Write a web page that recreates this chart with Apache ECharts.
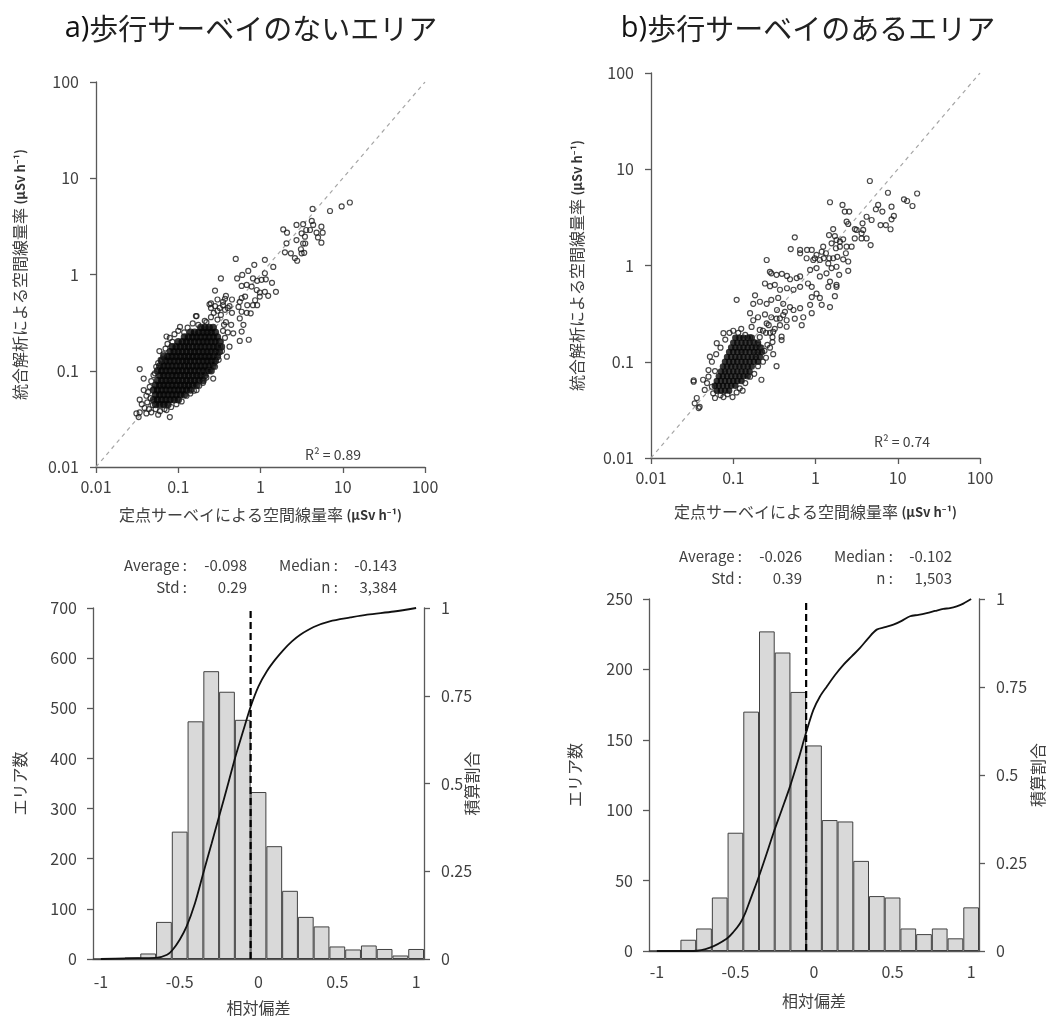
<!DOCTYPE html>
<html>
<head>
<meta charset="utf-8">
<title>空間線量率の比較</title>
<script src="https://cdn.jsdelivr.net/npm/echarts@6/dist/echarts.min.js"></script>
<style>
  html, body { margin: 0; padding: 0; background: #fff; }
  #main { width: 1047px; height: 1019px; }
</style>
</head>
<body>
<div id="main"></div>
<script>
// ---- data ----
const panelTitles = ['a)', '歩行サーベイのないエリア', 'b)', '歩行サーベイのあるエリア']
const r2Labels = ['R² = 0.89', 'R² = 0.74']
const diagonalLine = [[0.01, 0.01], [100, 100]]

// dense core of the scatter (rows: [y, [x...]]), µSv/h
const coreRowsA = [
  [0.0447, [0.0531, 0.0596, 0.0668, 0.075]],
  [0.0501, [0.0501, 0.0562, 0.0631, 0.0708, 0.0794, 0.0891, 0.1]],
  [0.0562, [0.0531, 0.0596, 0.0668, 0.075, 0.0841, 0.0944, 0.106, 0.119]],
  [0.0631, [0.0501, 0.0562, 0.0631, 0.0708, 0.0794, 0.0891, 0.1, 0.112, 0.126, 0.141]],
  [0.0708, [0.0531, 0.0596, 0.0668, 0.075, 0.0841, 0.0944, 0.106, 0.119, 0.133, 0.15, 0.168]],
  [0.0794, [0.0562, 0.0631, 0.0708, 0.0794, 0.0891, 0.1, 0.112, 0.126, 0.141, 0.158, 0.178, 0.2]],
  [0.0891, [0.0596, 0.0668, 0.075, 0.0841, 0.0944, 0.106, 0.119, 0.133, 0.15, 0.168, 0.188, 0.211]],
  [0.1, [0.0562, 0.0631, 0.0708, 0.0794, 0.0891, 0.1, 0.112, 0.126, 0.141, 0.158, 0.178, 0.2, 0.224, 0.251]],
  [0.112, [0.0596, 0.0668, 0.075, 0.0841, 0.0944, 0.106, 0.119, 0.133, 0.15, 0.168, 0.188, 0.211, 0.237, 0.266]],
  [0.126, [0.0631, 0.0708, 0.0794, 0.0891, 0.1, 0.112, 0.126, 0.141, 0.158, 0.178, 0.2, 0.224, 0.251, 0.282]],
  [0.141, [0.0668, 0.075, 0.0841, 0.0944, 0.106, 0.119, 0.133, 0.15, 0.168, 0.188, 0.211, 0.237, 0.266, 0.299]],
  [0.158, [0.0794, 0.0891, 0.1, 0.112, 0.126, 0.141, 0.158, 0.178, 0.2, 0.224, 0.251, 0.282, 0.316]],
  [0.178, [0.0841, 0.0944, 0.106, 0.119, 0.133, 0.15, 0.168, 0.188, 0.211, 0.237, 0.266, 0.299, 0.335]],
  [0.2, [0.1, 0.112, 0.126, 0.141, 0.158, 0.178, 0.2, 0.224, 0.251, 0.282, 0.316]],
  [0.224, [0.119, 0.133, 0.15, 0.168, 0.188, 0.211, 0.237, 0.266, 0.299]],
  [0.251, [0.141, 0.158, 0.178, 0.2, 0.224, 0.251, 0.282]],
  [0.282, [0.188, 0.211, 0.237, 0.266]]
]
// single points around the core and the sparse tail
const pointsA = [
  [0.031, 0.036], [0.033, 0.033], [0.034, 0.037], [0.034, 0.05], [0.034, 0.104], [0.036, 0.045], [0.038, 0.063],
  [0.038, 0.083], [0.039, 0.041], [0.041, 0.036], [0.041, 0.055], [0.042, 0.047], [0.043, 0.06], [0.044, 0.04],
  [0.045, 0.068], [0.046, 0.052], [0.047, 0.037], [0.047, 0.078], [0.049, 0.044], [0.05, 0.09], [0.052, 0.094],
  [0.053, 0.04], [0.054, 0.11], [0.057, 0.035], [0.057, 0.12], [0.059, 0.16], [0.06, 0.038], [0.061, 0.13],
  [0.063, 0.129], [0.066, 0.148], [0.068, 0.04], [0.07, 0.17], [0.072, 0.227], [0.072, 0.039], [0.074, 0.19],
  [0.079, 0.033], [0.079, 0.22], [0.082, 0.042], [0.085, 0.2], [0.09, 0.24], [0.095, 0.045], [0.1, 0.26],
  [0.105, 0.285], [0.11, 0.048], [0.118, 0.25], [0.126, 0.055], [0.13, 0.28], [0.14, 0.058], [0.15, 0.31],
  [0.155, 0.062], [0.167, 0.37], [0.167, 0.063], [0.175, 0.3], [0.18, 0.07], [0.2, 0.094], [0.2, 0.075],
  [0.21, 0.33], [0.22, 0.32], [0.22, 0.085], [0.24, 0.1], [0.25, 0.36], [0.266, 0.083], [0.27, 0.12],
  [0.28, 0.11], [0.29, 0.15], [0.3, 0.34], [0.31, 0.13], [0.32, 0.18], [0.33, 0.2], [0.34, 0.16], [0.35, 0.26],
  [0.36, 0.3], [0.37, 0.22], [0.39, 0.14], [0.4, 0.25], [0.42, 0.178], [0.44, 0.3], [0.466, 0.245], [0.38, 0.32],
  [0.33, 0.38], [0.27, 0.4], [0.25, 0.5], [0.3, 0.55], [0.35, 0.52], [0.42, 0.47], [0.45, 0.55], [0.38, 0.6],
  [0.3, 0.42], [0.45, 0.4],
  [12.2, 5.6], [9.7, 5.1], [7.0, 4.57], [4.3, 4.8], [2.74, 3.27], [3.3, 3.33], [4.2, 3.6], [4.37, 3.27], [5.5, 3.14],
  [5.7, 2.72], [4.8, 2.72], [5.0, 2.43], [5.5, 2.14], [3.6, 2.9], [4.0, 2.9], [3.16, 2.68], [3.47, 2.47],
  [2.74, 2.28], [3.3, 2.1], [3.5, 2.1], [3.1, 1.83], [3.16, 1.66], [1.89, 2.94], [2.1, 2.72], [2.07, 2.11],
  [1.98, 1.7], [2.34, 1.66], [2.62, 1.48], [2.79, 1.39], [3.4, 1.68],
  [0.5, 1.45], [0.84, 1.26], [1.13, 1.42], [1.43, 1.2], [0.33, 0.91], [0.52, 0.91], [0.6, 0.99], [0.71, 1.09],
  [0.81, 0.91], [0.91, 0.86], [1.03, 0.88], [1.16, 0.89], [1.13, 1.03], [1.38, 0.82], [0.59, 0.76], [0.68, 0.78],
  [0.78, 0.75], [0.9, 0.69], [0.98, 0.65], [1.13, 0.66], [1.24, 0.6], [1.54, 0.66], [0.28, 0.68], [0.37, 0.56],
  [0.59, 0.57], [0.65, 0.59], [0.56, 0.52], [0.69, 0.48], [0.81, 0.48], [0.91, 0.48], [0.86, 0.54], [0.98, 0.59],
  [0.54, 0.46], [0.59, 0.41], [0.68, 0.4], [0.76, 0.395], [0.56, 0.35], [0.62, 0.3], [0.59, 0.255], [0.56, 0.204],
  [0.72, 0.21], [0.24, 0.49], [0.25, 0.45], [0.28, 0.47], [0.32, 0.45], [0.37, 0.43], [0.4, 0.45], [0.35, 0.48],
  [0.164, 0.37]
]

const coreRowsB = [
  [0.0501, [0.0631, 0.0708, 0.0794, 0.0891]],
  [0.0562, [0.0596, 0.0668, 0.075, 0.0841, 0.0944, 0.106]],
  [0.0631, [0.0631, 0.0708, 0.0794, 0.0891, 0.1, 0.112, 0.126]],
  [0.0708, [0.0668, 0.075, 0.0841, 0.0944, 0.106, 0.119, 0.133, 0.15]],
  [0.0794, [0.0708, 0.0794, 0.0891, 0.1, 0.112, 0.126, 0.141, 0.158]],
  [0.0891, [0.075, 0.0841, 0.0944, 0.106, 0.119, 0.133, 0.15, 0.168]],
  [0.1, [0.0794, 0.0891, 0.1, 0.112, 0.126, 0.141, 0.158, 0.178, 0.2]],
  [0.112, [0.0841, 0.0944, 0.106, 0.119, 0.133, 0.15, 0.168, 0.188, 0.211]],
  [0.126, [0.0891, 0.1, 0.112, 0.126, 0.141, 0.158, 0.178, 0.2, 0.224]],
  [0.141, [0.0944, 0.106, 0.119, 0.133, 0.15, 0.168, 0.188, 0.211]],
  [0.158, [0.1, 0.112, 0.126, 0.141, 0.158, 0.178, 0.2]],
  [0.178, [0.106, 0.119, 0.133, 0.15, 0.168]]
]
const pointsB = [
  [0.033, 0.064], [0.036, 0.042], [0.034, 0.037], [0.039, 0.034], [0.043, 0.065], [0.05, 0.082], [0.045, 0.051],
  [0.057, 0.047], [0.076, 0.043], [0.098, 0.043], [0.12, 0.053], [0.22, 0.065], [0.336, 0.09], [0.306, 0.12],
  [0.387, 0.168], [0.446, 0.231], [0.369, 0.282], [0.076, 0.198], [0.063, 0.156], [0.052, 0.113], [0.033, 0.062],
  [0.038, 0.033], [0.048, 0.06], [0.05, 0.07], [0.055, 0.1], [0.06, 0.08], [0.062, 0.12], [0.07, 0.14], [0.08, 0.17],
  [0.09, 0.2], [0.1, 0.21], [0.115, 0.2], [0.125, 0.22], [0.14, 0.19], [0.16, 0.18], [0.18, 0.16], [0.2, 0.15],
  [0.22, 0.14], [0.24, 0.13], [0.26, 0.15], [0.25, 0.11], [0.23, 0.1], [0.2, 0.09], [0.18, 0.075], [0.16, 0.07],
  [0.14, 0.06], [0.13, 0.05], [0.11, 0.048], [0.085, 0.046], [0.07, 0.045], [0.06, 0.042], [0.055, 0.055],
  [0.19, 0.12], [0.21, 0.18], [0.28, 0.2], [0.3, 0.18], [0.27, 0.24], [0.25, 0.2], [0.32, 0.22], [0.23, 0.21],
  [0.28, 0.14], [0.3, 0.16],
  [4.58, 7.55], [17.2, 5.6], [11.9, 4.87], [13.0, 4.68], [15.1, 4.15], [7.6, 5.7], [1.5, 4.54], [2.13, 4.26],
  [2.27, 3.63], [2.57, 3.63], [5.78, 4.26], [5.42, 3.84], [6.5, 3.63], [8.4, 4.08], [8.97, 3.27], [8.4, 3.02],
  [4.18, 3.21], [4.81, 2.97], [3.73, 2.74], [2.39, 2.85], [2.5, 2.7], [6.18, 2.63], [7.17, 2.63], [8.17, 2.38],
  [3.01, 2.39], [3.16, 2.34], [3.8, 2.34], [3.63, 2.16], [3.0, 1.91], [3.63, 1.91], [4.18, 1.91], [4.68, 1.63],
  [1.64, 2.39], [1.72, 2.02], [1.46, 2.07], [1.8, 1.84], [1.98, 1.77], [2.17, 1.87], [1.57, 1.7], [1.98, 1.57],
  [2.39, 1.57], [1.77, 1.51], [2.75, 1.57], [2.5, 1.1], [2.17, 1.16], [2.34, 1.34], [1.24, 1.57], [1.19, 1.39],
  [1.34, 1.34], [1.03, 1.29], [0.98, 1.19], [1.13, 1.14], [1.26, 1.19], [1.47, 1.19], [1.64, 1.19], [1.84, 1.23],
  [1.43, 1.05], [1.57, 0.94], [1.8, 0.97], [1.36, 0.83], [1.94, 0.8], [2.5, 0.88], [1.5, 0.68], [1.8, 0.6],
  [1.72, 0.48], [0.56, 1.96], [0.5, 1.48], [0.65, 1.45], [0.65, 1.34], [0.79, 1.45], [0.9, 1.45], [0.78, 1.19],
  [0.94, 1.14], [1.03, 0.94], [0.86, 0.9], [1.13, 0.77], [0.255, 1.14], [0.279, 0.86], [0.29, 0.83], [0.336, 0.8],
  [0.39, 0.82], [0.45, 0.78], [0.49, 0.72], [0.59, 0.74], [0.65, 0.77], [0.243, 0.65], [0.28, 0.61], [0.32, 0.63],
  [0.37, 0.56], [0.45, 0.58], [0.54, 0.56], [0.65, 0.6], [0.81, 0.65], [0.9, 0.6], [1.03, 0.51], [0.9, 0.47],
  [1.13, 0.46], [1.43, 0.6], [1.8, 0.63], [1.5, 0.37], [1.19, 0.39], [0.11, 0.44], [0.184, 0.49], [0.175, 0.4],
  [0.211, 0.42], [0.255, 0.4], [0.29, 0.44], [0.352, 0.46], [0.405, 0.4], [0.49, 0.37], [0.34, 0.345],
  [0.425, 0.33], [0.54, 0.345], [0.65, 0.36], [0.86, 0.39], [0.71, 0.29], [0.68, 0.24], [0.9, 0.32], [0.16, 0.32],
  [0.175, 0.27], [0.2, 0.29], [0.243, 0.31], [0.29, 0.29], [0.336, 0.28], [0.405, 0.306], [0.446, 0.27],
  [0.56, 0.28], [0.255, 0.25], [0.37, 0.24], [0.167, 0.23], [0.21, 0.214], [0.306, 0.205], [0.387, 0.182]
]

// histograms of relative deviation (bin centres -1 ... 1, step 0.1)
const histBins = ['-1', '-0.9', '-0.8', '-0.7', '-0.6', '-0.5', '-0.4', '-0.3', '-0.2', '-0.1', '0',
  '0.1', '0.2', '0.3', '0.4', '0.5', '0.6', '0.7', '0.8', '0.9', '1']
const histCountsA = [0, 0, 3, 11, 74, 254, 474, 574, 533, 477, 333, 225, 136, 84, 65, 25, 19, 27, 20, 7, 20]
const histCountsB = [0, 0, 8, 16, 38, 84, 170, 227, 212, 184, 146, 93, 92, 64, 39, 38, 16, 12, 16, 9, 31]
const cumulativeA = [[-1.0, 0], [-0.84, 0.002], [-0.65, 0.003], [-0.58, 0.012], [-0.547, 0.025],
  [-0.5, 0.055], [-0.456, 0.093], [-0.403, 0.159], [-0.35, 0.245], [-0.297, 0.33], [-0.244, 0.416],
  [-0.191, 0.502], [-0.146, 0.577], [-0.095, 0.653], [-0.049, 0.72], [0.0, 0.777], [0.053, 0.82],
  [0.106, 0.853], [0.159, 0.881], [0.212, 0.905], [0.265, 0.924], [0.35, 0.946], [0.452, 0.962],
  [0.583, 0.973], [0.689, 0.981], [0.859, 0.99], [1.0, 1.0]]
const cumulativeB = [[-1.0, 0], [-0.768, 0], [-0.662, 0.0095], [-0.556, 0.035], [-0.513, 0.054],
  [-0.471, 0.078], [-0.439, 0.106], [-0.407, 0.144], [-0.375, 0.182], [-0.344, 0.22], [-0.301, 0.277],
  [-0.259, 0.334], [-0.206, 0.4], [-0.153, 0.467], [-0.1, 0.543], [-0.051, 0.619], [-0.004, 0.685],
  [0.038, 0.723], [0.081, 0.751], [0.134, 0.784], [0.187, 0.813], [0.24, 0.837], [0.293, 0.861],
  [0.346, 0.889], [0.399, 0.913], [0.452, 0.92], [0.505, 0.927], [0.558, 0.938], [0.611, 0.951],
  [0.664, 0.955], [0.717, 0.96], [0.77, 0.966], [0.823, 0.972], [0.865, 0.974], [0.908, 0.979],
  [0.95, 0.987], [1.0, 1.0]]
const dashedLineA = [[-0.05, 0], [-0.05, 1]]
const dashedLineB = [[-0.05, 0], [-0.05, 1]]
const statLabels = ['Average :', 'Median :', 'Std :', 'n :']
const statsA = ['-0.098', '-0.143', '0.29', '3,384']
const statsB = ['-0.026', '-0.102', '0.39', '1,503']

// ---- styling ----
const FONT = "'Noto Sans CJK JP', 'Noto Sans', sans-serif"
const AXIS_COLOR = '#595959'
const LABEL_COLOR = '#404040'

function flattenRows(rows) {
  const out = []
  rows.forEach(([y, xs]) => xs.forEach(x => out.push([x, y])))
  return out
}

function fmtLog(v) {
  return String(parseFloat(Number(v).toPrecision(3)))
}

const unitRich = {
  t: { fontSize: 16, color: LABEL_COLOR, fontFamily: FONT },
  u: { fontSize: 13, fontWeight: 'bold', color: '#333', fontFamily: FONT }
}

const axisLineStyle = { onZero: false, lineStyle: { color: AXIS_COLOR, width: 1.3 } }

function logAxis(gridIndex, name, nameGap, isY) {
  return {
    type: 'log',
    logBase: 10,
    gridIndex: gridIndex,
    min: 0.01,
    max: 100,
    name: name,
    nameLocation: 'middle',
    nameGap: nameGap,
    nameMoveOverlap: false,
    nameRotate: isY ? 90 : 0,
    nameTextStyle: { rich: unitRich },
    axisLine: axisLineStyle,
    axisTick: { length: 6, lineStyle: { color: AXIS_COLOR, width: 1.3 } },
    minorTick: { show: false },
    axisLabel: { margin: isY ? 17 : 12, fontSize: 16, color: LABEL_COLOR, fontFamily: FONT, formatter: fmtLog },
    splitLine: { show: false }
  }
}

function catAxis(gridIndex, nameGap, margin) {
  return {
    type: 'category',
    gridIndex: gridIndex,
    data: histBins,
    boundaryGap: true,
    name: '相対偏差',
    nameLocation: 'middle',
    nameGap: nameGap,
    nameMoveOverlap: false,
    nameTextStyle: { fontSize: 16, color: LABEL_COLOR, fontFamily: FONT },
    axisLine: axisLineStyle,
    axisTick: { interval: 4, length: 6, lineStyle: { color: AXIS_COLOR, width: 1.3 } },
    axisLabel: { interval: 4, margin: margin, fontSize: 16, color: LABEL_COLOR, fontFamily: FONT },
    splitLine: { show: false }
  }
}

function hiddenValueAxis(gridIndex) {
  return {
    type: 'value', gridIndex: gridIndex, min: -1.05, max: 1.05, show: false,
    axisLine: { show: false, onZero: false }, splitLine: { show: false }
  }
}

function countAxis(gridIndex, max, interval, nameGap) {
  return {
    type: 'value',
    gridIndex: gridIndex,
    min: 0,
    max: max,
    interval: interval,
    name: 'エリア数',
    nameLocation: 'middle',
    nameGap: nameGap,
    nameMoveOverlap: false,
    nameRotate: 90,
    nameTextStyle: { fontSize: 16, color: LABEL_COLOR, fontFamily: FONT },
    axisLine: Object.assign({ show: true }, axisLineStyle),
    axisTick: { show: true, length: 6, lineStyle: { color: AXIS_COLOR, width: 1.3 } },
    axisLabel: { margin: 16, fontSize: 16, color: LABEL_COLOR, fontFamily: FONT },
    splitLine: { show: false }
  }
}

function ratioAxis(gridIndex, nameGap) {
  return {
    type: 'value',
    gridIndex: gridIndex,
    position: 'right',
    min: 0,
    max: 1,
    interval: 0.25,
    name: '積算割合',
    nameLocation: 'middle',
    nameGap: nameGap,
    nameMoveOverlap: false,
    nameRotate: 90,
    nameTextStyle: { fontSize: 16, color: LABEL_COLOR, fontFamily: FONT },
    axisLine: Object.assign({ show: true }, axisLineStyle),
    axisTick: { show: true, length: 6, lineStyle: { color: AXIS_COLOR, width: 1.3 } },
    axisLabel: { margin: 17, fontSize: 16, color: LABEL_COLOR, fontFamily: FONT },
    splitLine: { show: false }
  }
}

function scatterSeries(axisIndex, core, points, coreSize) {
  return [
    {
      type: 'line', xAxisIndex: axisIndex, yAxisIndex: axisIndex, data: diagonalLine, symbol: 'none', z: 1,
      lineStyle: { color: '#a6a6a6', width: 1.2, type: [4, 4] }, silent: true
    },
    {
      type: 'scatter', xAxisIndex: axisIndex, yAxisIndex: axisIndex, data: core, symbol: 'circle',
      symbolSize: coreSize, itemStyle: { color: '#050505' }, z: 2, silent: true
    },
    {
      type: 'scatter', xAxisIndex: axisIndex, yAxisIndex: axisIndex, data: points, symbol: 'circle',
      symbolSize: 5, itemStyle: { color: 'rgba(255,255,255,0)', borderColor: '#1a1a1a', borderWidth: 1.2 },
      z: 3, silent: true
    }
  ]
}

function histSeries(catIndex, valIndex, leftIndex, rightIndex, counts, cumulative, dashed) {
  return [
    {
      type: 'bar', xAxisIndex: catIndex, yAxisIndex: leftIndex, data: counts, barCategoryGap: '0%',
      itemStyle: { color: '#d9d9d9', borderColor: '#404040', borderWidth: 1 }, silent: true
    },
    {
      type: 'line', xAxisIndex: valIndex, yAxisIndex: rightIndex, data: cumulative, symbol: 'none',
      smooth: 0.3, lineStyle: { color: '#111', width: 1.8 }, z: 4, silent: true
    },
    {
      type: 'line', xAxisIndex: valIndex, yAxisIndex: rightIndex, data: dashed, symbol: 'none',
      lineStyle: { color: '#000', width: 2.2, type: [7, 4] }, z: 5, silent: true
    }
  ]
}

function statText(x, y, text) {
  return {
    type: 'text', x: x, y: y,
    style: { text: text, fill: LABEL_COLOR, font: '15px ' + FONT, align: 'right', verticalAlign: 'middle' }
  }
}

function statsBlock(labelX, valueX, label2X, value2X, y1, y2, stats) {
  return [
    statText(labelX, y1, statLabels[0]), statText(valueX, y1, stats[0]),
    statText(label2X, y1, statLabels[1]), statText(value2X, y1, stats[1]),
    statText(labelX, y2, statLabels[2]), statText(valueX, y2, stats[2]),
    statText(label2X, y2, statLabels[3]), statText(value2X, y2, stats[3])
  ]
}

function titleText(x, prefix, body) {
  return {
    type: 'text', x: x, y: 29,
    style: {
      text: '{p|' + prefix + '}{b|' + body + '}',
      align: 'center', verticalAlign: 'middle',
      rich: {
        p: { fontSize: 29, fontFamily: "'Open Sans', 'Noto Sans', sans-serif", fill: '#111' },
        b: { fontSize: 29, fontFamily: FONT, fill: '#222' }
      }
    }
  }
}

const xNameScatter = '{t|定点サーベイによる空間線量率} {u|(μSv h⁻¹)}'
const yNameScatter = '{t|統合解析による空間線量率} {u|(μSv h⁻¹)}'

const chart = echarts.init(document.getElementById('main'))

chart.setOption({
  animation: false,
  backgroundColor: '#fff',
  grid: [
    { left: 96, top: 82, width: 329, height: 385 },
    { left: 651, top: 73, width: 329, height: 385 },
    { left: 93, top: 608, width: 331, height: 351 },
    { left: 649, top: 599, width: 330, height: 352 }
  ],
  xAxis: [
    logAxis(0, xNameScatter, 40, false),
    logAxis(1, xNameScatter, 46, false),
    catAxis(2, 41, 15),
    hiddenValueAxis(2),
    catAxis(3, 42, 13),
    hiddenValueAxis(3)
  ],
  yAxis: [
    logAxis(0, yNameScatter, 68, true),
    logAxis(1, yNameScatter, 66, true),
    countAxis(2, 700, 100, 65),
    ratioAxis(2, 40),
    countAxis(3, 250, 50, 66),
    ratioAxis(3, 51)
  ],
  series: [
    ...scatterSeries(0, flattenRows(coreRowsA), pointsA, 7.5),
    ...scatterSeries(1, flattenRows(coreRowsB), pointsB, 6.5),
    ...histSeries(2, 3, 2, 3, histCountsA, cumulativeA, dashedLineA),
    ...histSeries(4, 5, 4, 5, histCountsB, cumulativeB, dashedLineB)
  ],
  graphic: [
    titleText(251, panelTitles[0], panelTitles[1]),
    titleText(808, panelTitles[2], panelTitles[3]),
    {
      type: 'text', x: 333, y: 455,
      style: { text: r2Labels[0], fill: LABEL_COLOR, font: '14px ' + FONT, align: 'center', verticalAlign: 'middle' }
    },
    {
      type: 'text', x: 902, y: 442,
      style: { text: r2Labels[1], fill: LABEL_COLOR, font: '14px ' + FONT, align: 'center', verticalAlign: 'middle' }
    },
    ...statsBlock(187, 247, 338, 397, 565, 587, statsA),
    ...statsBlock(742, 802, 893, 952, 556, 578, statsB)
  ]
})
</script>
</body>
</html>
